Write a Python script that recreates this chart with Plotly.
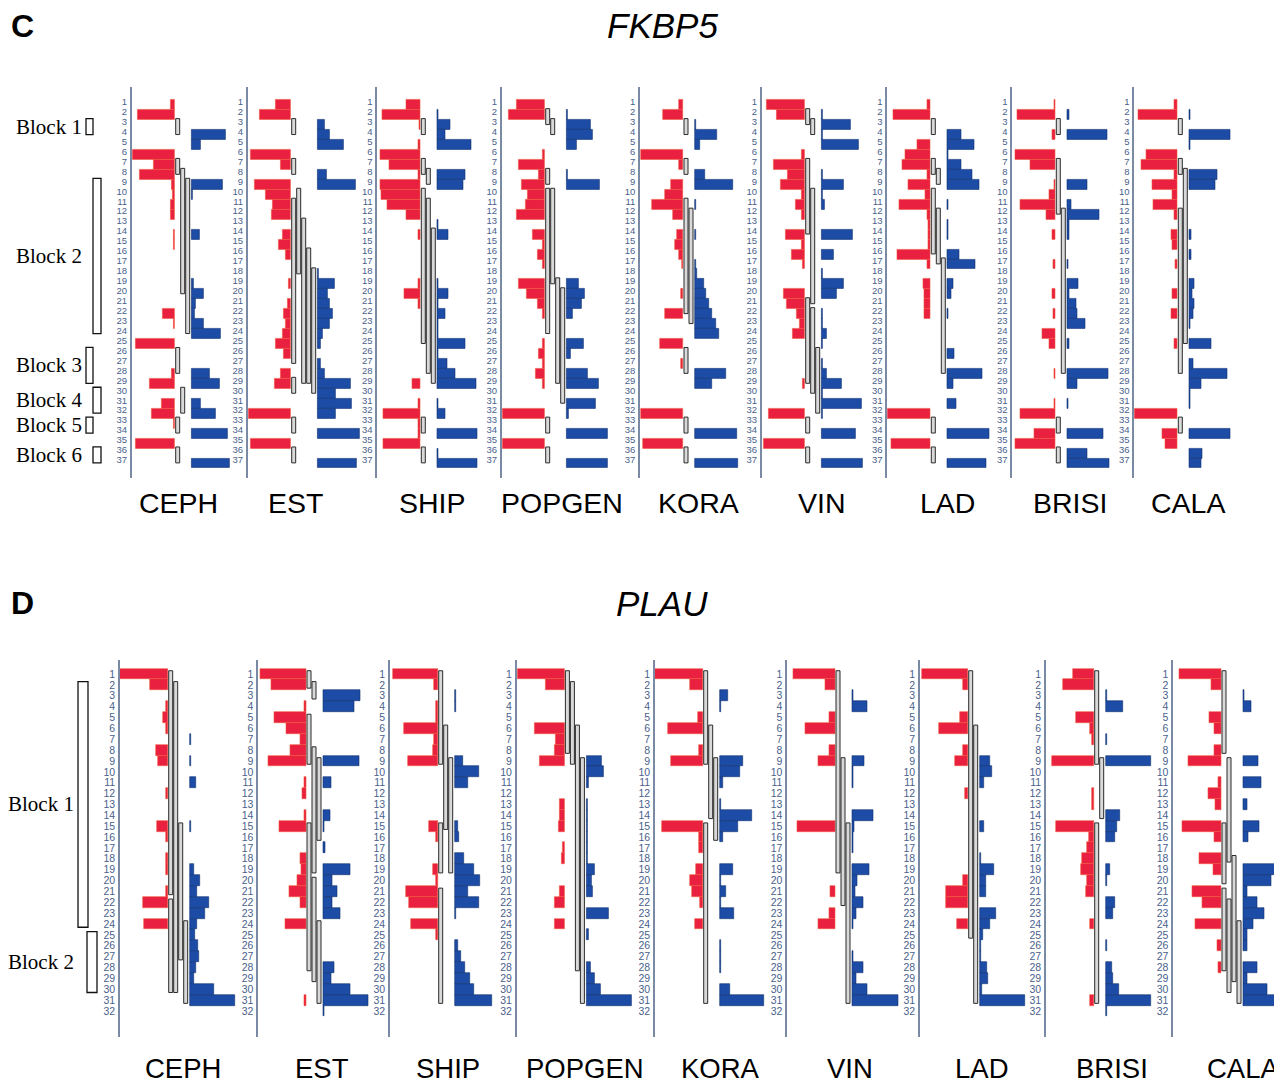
import plotly.graph_objects as go

# ---------------------------------------------------------------- data
POPULATIONS = ["CEPH", "EST", "SHIP", "POPGEN", "KORA", "VIN", "LAD", "BRISI", "CALA"]
FKBP5_SNPS = list(range(1, 38))
PLAU_SNPS = list(range(1, 33))

# FKBP5 (panel C): red (left) and blue (right) bar values per SNP, 0..1
C_CEPH_RED = [.10,.86,0,0,0,.98,.50,.82,.06,.05, .09,.10,0,.03,.03,0,0,0,0,0, 0,.29,.03,0,.90,0,0,.06,.57,0, .30,.53,.03,0,.90,0,0]
C_CEPH_BLUE = [0,0,0,.80,.21,0,0,0,.73,.03, 0,0,0,.19,0,0,0,0,.05,.29, .10,.06,.29,.68,0,0,0,.41,.66,0, .21,.56,0,.84,0,0,.89]
C_EST_RED = [.34,.73,0,0,0,.92,.24,0,.84,.57, .42,.45,0,.18,.28,.12,0,0,.04,0, .08,.16,.12,.18,.34,.16,0,.24,.37,0, 0,.98,0,0,.92,0,0]
C_EST_BLUE = [0,0,.17,.29,.61,0,0,.21,.88,0, 0,0,0,0,0,0,0,.02,.39,.24, .29,.35,.29,.11,.08,0,.08,.17,.76,.41, .80,.41,0,.98,0,0,.90]
C_SHIP_RED = [.33,.88,.03,0,.05,.94,.72,.04,.92,.90, .77,.33,0,.04,0,0,0,0,.05,.38, .04,0,0,0,0,0,0,0,.19,0, .05,.86,.05,.05,.86,0,0]
C_SHIP_BLUE = [0,.03,.30,.19,.79,0,0,.64,.60,0, 0,0,.03,.26,0,0,0,0,.03,.26, .03,.19,.03,.03,.64,.03,.23,.41,.90,0, .03,.19,0,.94,0,.03,.94]
C_POPGEN_RED = [.65,.84,0,0,0,.05,.61,.13,.53,.40, .45,.65,0,.29,.05,.17,.05,0,.61,.41, .17,.05,0,0,.05,.13,.05,.20,.05,0, 0,.98,0,0,.98,0,0]
C_POPGEN_BLUE = [0,.03,.56,.61,.24,0,0,.03,.76,0, 0,0,0,0,0,0,0,0,.28,.43, .36,.13,0,0,.40,.09,0,.48,.74,0, .68,.05,0,.95,0,0,.95]
C_KORA_RED = [.10,.47,0,0,0,.98,.10,0,.29,.41, .73,.23,0,.15,.19,.10,.03,0,0,.05, 0,.43,0,0,.53,0,.05,0,0,0, 0,.98,0,0,.94,0,0]
C_KORA_BLUE = [0,0,.03,.50,.12,0,0,.24,.88,0, .03,0,0,.03,0,0,.03,.05,.20,.26, .33,.39,.49,.55,0,0,0,.73,.39,0, 0,0,0,.98,0,0,.99]
C_VIN_RED = [.88,.65,0,0,0,.08,.71,.40,.55,.08, .22,.08,0,.45,.08,.31,.04,0,0,.48, .42,.19,.12,.27,0,0,0,0,.04,0, 0,.83,0,0,.96,0,0]
C_VIN_BLUE = [0,.03,.67,.03,.86,0,0,.03,.50,.03, .08,0,0,.72,0,.29,0,.03,.50,.35, 0,.03,.03,.12,.03,0,.03,.12,.46,.03, .94,.03,0,.78,0,0,.95]
C_LAD_RED = [.08,.86,0,0,.31,.59,.66,.08,.52,.12, .73,.08,.04,.04,.04,.76,.08,0,.16,.13, .13,.13,0,0,0,0,0,0,0,0, 0,.99,0,0,.91,0,0]
C_LAD_BLUE = [0,0,0,.33,.63,.03,.33,.59,.74,0, .03,0,.03,.03,0,.27,.66,0,.14,.09, 0,.03,0,0,0,.16,0,.82,.14,0, .20,0,0,.98,0,0,.90]
C_BRISI_RED = [.03,.89,0,.08,0,.94,.58,0,.03,.15, .82,.21,0,.08,0,0,.05,0,0,.08, 0,.05,0,.31,.14,0,0,.03,0,0, .03,.81,0,.48,.94,0,0]
C_BRISI_BLUE = [0,.04,0,.92,0,0,0,0,.47,0, .09,.74,.05,.05,0,0,.03,0,.26,.05, .21,.23,.41,0,.05,0,0,.95,.24,0, .03,0,0,.84,0,.46,.97]
C_CALA_RED = [.08,.91,0,0,0,.72,.83,.08,.58,.11, .55,.08,0,.15,.11,0,.05,0,0,.11, 0,.13,0,0,.08,0,0,0,0,0, 0,1.0,0,.36,.28,0,0]
C_CALA_BLUE = [0,.03,0,.96,.03,0,0,.64,.60,0, 0,0,0,.05,0,.05,0,0,.11,.07, .11,.09,.03,0,.51,0,.09,.89,.27,.03, .03,0,0,.96,0,.30,.27]

# FKBP5 haplotype blocks per population: (first SNP, last SNP, lane)
C_CEPH_BLOCKS = [(3,4,0),(7,8,0),(8,20,1),(9,24,2),(26,28,0),(30,32,1),(33,34,0),(36,37,0)]
C_EST_BLOCKS = [(3,4,0),(7,8,0),(10,18,1),(11,27,0),(13,29,2),(16,29,3),(18,30,4),(29,30,0),(33,34,0),(36,37,0)]
C_SHIP_BLOCKS = [(3,4,0),(7,8,0),(8,9,1),(10,25,0),(11,28,1),(14,29,2),(33,34,0),(36,37,0)]
C_POPGEN_BLOCKS = [(2,3,0),(3,4,1),(8,9,0),(10,24,0),(10,19,1),(19,29,2),(20,31,3),(33,34,0),(36,37,0)]
C_KORA_BLOCKS = [(3,4,0),(7,8,0),(11,22,0),(12,23,1),(26,28,0),(33,34,0),(36,37,0)]
C_VIN_BLOCKS = [(2,3,0),(3,4,1),(7,14,0),(10,21,1),(21,29,0),(22,30,1),(26,32,2),(33,34,0),(36,37,0)]
C_LAD_BLOCKS = [(3,4,0),(7,8,0),(8,9,1),(10,16,0),(12,17,1),(17,28,2),(33,34,0),(36,37,0)]
C_BRISI_BLOCKS = [(3,4,0),(7,12,0),(12,28,1),(33,34,0),(36,37,0)]
C_CALA_BLOCKS = [(3,4,0),(7,8,0),(8,25,1),(12,28,0),(33,34,0)]

# PLAU (panel D)
D_CEPH_RED = [.99,.38,0,.04,.09,.04,0,.24,.20,0, 0,.04,0,0,.22,.04,0,.04,.04,0, .03,.51,0,.49,0,0,0,0,0,0, 0,0]
D_CEPH_BLUE = [0,0,0,0,0,0,.03,0,.03,0, .14,0,0,0,.03,0,0,0,.08,.21, .15,.40,.33,.15,.12,.17,.19,.14,.08,.50, .96,0]
D_EST_RED = [.96,.73,0,.03,.66,.41,.11,.32,.80,0, .04,.07,0,.04,.57,0,0,.13,.09,.18, .36,.13,0,.44,0,0,0,0,0,0, .04,0]
D_EST_BLUE = [0,0,.79,.66,0,0,0,0,.76,0, .17,0,0,.16,.03,0,.05,0,.57,.19, .29,.19,.37,0,0,0,0,.24,.17,.57, .94,.03]
D_SHIP_RED = [.93,.08,0,.03,.03,.70,.08,.10,.62,0, 0,0,0,0,.19,.03,0,0,.10,.03, .66,.60,0,.55,.03,0,0,0,0,0, 0,0]
D_SHIP_BLUE = [0,0,.03,.03,0,0,0,0,.17,.50, .28,0,0,0,.06,.10,0,.19,.40,.54, .28,.50,.03,0,0,.07,.14,.22,.33,.41, .79,0]
D_POPGEN_RED = [.98,.39,0,0,0,.63,.18,.20,.51,0, 0,0,.09,.09,.11,0,.03,.06,0,0, .09,.20,0,.20,0,0,0,0,0,0, 0,0]
D_POPGEN_BLUE = [0,0,0,0,0,0,0,0,.33,.36, .05,0,.02,.02,.02,.02,.02,.02,.17,.12, .14,0,.47,0,.05,0,0,.08,.17,.29, .96,0]
D_KORA_RED = [.99,.26,0,0,.10,.72,0,.08,.67,0, 0,0,0,0,.86,.08,.08,0,.14,.26, .23,.05,0,.17,0,0,0,0,0,0, 0,0]
D_KORA_BLUE = [0,0,.18,.03,0,0,0,0,.49,.42, .06,0,.03,.67,.39,.07,0,0,.28,.03, .13,.03,.30,0,0,.03,.03,.03,0,.21, .92,0]
D_VIN_RED = [.87,.20,0,0,.13,.62,0,.11,.34,0, 0,0,0,0,.80,0,0,0,0,0, .10,0,.11,.34,0,0,0,0,0,0, 0,0]
D_VIN_BLUE = [0,0,.03,.33,0,0,0,0,.26,.03, .03,0,0,.44,.05,.03,.03,0,.37,.12, .07,.23,.10,.03,0,0,.03,.23,.10,.33, .97,0]
D_LAD_RED = [.96,.10,0,0,.16,.60,0,.10,.27,0, 0,.05,0,0,0,0,0,0,0,.10, .45,.45,0,.22,0,0,0,0,0,0, 0,0]
D_LAD_BLUE = [0,0,0,0,0,0,0,0,.22,.26, .10,0,0,0,.10,0,0,.03,.31,.14, .14,0,.35,.21,.07,.03,.03,.15,.17,.05, .94,0]
D_BRISI_RED = [.43,.65,0,0,.38,.08,.03,0,.88,0, 0,.03,.03,0,.79,.10,.15,.24,.26,.15, .17,0,0,.08,0,0,0,0,0,0, .08,0]
D_BRISI_BLUE = [0,0,.03,.36,0,0,.03,0,.94,0, 0,0,0,.29,.24,.20,0,0,.08,.03, 0,.20,.15,0,0,.03,0,.13,.15,.27, .94,.03]
D_CALA_RED = [.88,.21,0,0,.24,.14,0,.14,.69,0, .05,.26,.12,0,.81,.14,0,.45,.17,0, .60,.39,0,.53,0,.07,0,.05,0,0, 0,0]
D_CALA_BLUE = [0,0,.03,.17,0,0,0,0,.32,0, .39,0,.09,0,.34,.12,0,0,.71,.59, .10,.31,.45,.21,.09,.09,0,.31,.10,.50, .74,0]

D_CEPH_BLOCKS = [(1,21,0),(2,30,1),(22,30,0),(15,27,2),(24,31,3)]
D_EST_BLOCKS = [(1,2,0),(2,3,1),(5,9,0),(8,19,1),(9,16,2),(15,28,0),(20,29,1),(24,31,2)]
D_SHIP_BLOCKS = [(1,9,0),(6,15,1),(9,19,2),(15,19,0),(21,31,0)]
D_POPGEN_BLOCKS = [(1,8,0),(2,9,1),(6,28,2),(9,31,3)]
D_KORA_BLOCKS = [(1,9,0),(6,14,1),(9,16,2),(15,31,0)]
D_VIN_BLOCKS = [(1,19,0),(9,22,1),(15,31,2)]
D_LAD_BLOCKS = [(1,25,0),(6,31,1)]
D_BRISI_BLOCKS = [(1,9,0),(9,14,1),(15,31,0)]
D_CALA_BLOCKS = [(1,8,0),(9,18,1),(15,20,0),(18,29,2),(21,28,0),(22,30,1),(24,31,3)]

# haplotype block key at the left of each panel: (first SNP, last SNP, lane)
FKBP5_KEY_BLOCKS = [(3,4,0),(9,24,1),(26,29,0),(30,32,1),(33,34,0),(36,37,1)]
PLAU_KEY_BLOCKS = [(2,24,0),(25,30,1)]

FKBP5_RED = [C_CEPH_RED, C_EST_RED, C_SHIP_RED, C_POPGEN_RED, C_KORA_RED, C_VIN_RED, C_LAD_RED, C_BRISI_RED, C_CALA_RED]
FKBP5_BLUE = [C_CEPH_BLUE, C_EST_BLUE, C_SHIP_BLUE, C_POPGEN_BLUE, C_KORA_BLUE, C_VIN_BLUE, C_LAD_BLUE, C_BRISI_BLUE, C_CALA_BLUE]
FKBP5_BLOCKS = [C_CEPH_BLOCKS, C_EST_BLOCKS, C_SHIP_BLOCKS, C_POPGEN_BLOCKS, C_KORA_BLOCKS, C_VIN_BLOCKS, C_LAD_BLOCKS, C_BRISI_BLOCKS, C_CALA_BLOCKS]
PLAU_RED = [D_CEPH_RED, D_EST_RED, D_SHIP_RED, D_POPGEN_RED, D_KORA_RED, D_VIN_RED, D_LAD_RED, D_BRISI_RED, D_CALA_RED]
PLAU_BLUE = [D_CEPH_BLUE, D_EST_BLUE, D_SHIP_BLUE, D_POPGEN_BLUE, D_KORA_BLUE, D_VIN_BLUE, D_LAD_BLUE, D_BRISI_BLUE, D_CALA_BLUE]
PLAU_BLOCKS = [D_CEPH_BLOCKS, D_EST_BLOCKS, D_SHIP_BLOCKS, D_POPGEN_BLOCKS, D_KORA_BLOCKS, D_VIN_BLOCKS, D_LAD_BLOCKS, D_BRISI_BLOCKS, D_CALA_BLOCKS]

# ---------------------------------------------------------------- layout / style
FIG_W, FIG_H = 1274, 1072   # page body keeps an 8 px margin
OFF = 8
RED, RED_EDGE = "#e9203f", "#f0553a"
BLUE, BLUE_EDGE = "#1c4ca5", "#10306e"
AXIS_COL, TICK_COL = "#7b8aa4", "#4a5f8c"
BOX_EDGE, BOX_FILL = "#2b2b2b", "#d9d9d9"


def px(x):
    return (x - OFF) / FIG_W


def py(y):
    return 1 - (y - OFF) / FIG_H


PANELS = [
    dict(letter="C", gene="FKBP5", snps=FKBP5_SNPS, red=FKBP5_RED, blue=FKBP5_BLUE,
         blocks=FKBP5_BLOCKS, key=FKBP5_KEY_BLOCKS,
         axis_x=[131.7, 247.7, 377.3, 501.7, 640.0, 761.7, 887.3, 1012.3, 1134.3],
         label_x=[178, 295, 432, 562, 698, 822, 948, 1070, 1188], label_y=503, title_y=26,
         label_size=28.5,
         y_top=86.7, y_bot=478.0, row1=101.7, step=9.95, bar_off=0.33, scale=43.0,
         tick_size=9.5, key_lanes=[(86, 93), (93, 101)], key_text_x=84),
    dict(letter="D", gene="PLAU", snps=PLAU_SNPS, red=PLAU_RED, blue=PLAU_BLUE,
         blocks=PLAU_BLOCKS, key=PLAU_KEY_BLOCKS,
         axis_x=[120.0, 258.3, 390.0, 516.7, 655.0, 787.3, 920.0, 1046.0, 1173.3],
         label_x=[183, 322, 448, 585, 721, 850, 982, 1112, 1243], label_y=1068, title_y=603,
         label_size=27.5,
         y_top=660.0, y_bot=1036.7, row1=674.0, step=10.87, bar_off=0.0, scale=47.7,
         tick_size=10.5, key_lanes=[(78, 88), (87, 97)], key_text_x=76),
]

LANE_W, BOX_W, PAD = 5.0, 4.0, 0.3

fig = go.Figure()
axes = {}
shapes = []
annotations = []
n = 0
for P in PANELS:
    key_yref = None
    S = P["scale"]
    for i, pop in enumerate(POPULATIONS):
        n += 1
        xa, ya = ("x", "y") if n == 1 else (f"x{n}", f"y{n}")
        xk, yk = ("xaxis", "yaxis") if n == 1 else (f"xaxis{n}", f"yaxis{n}")
        if key_yref is None:
            key_yref = ya
        ax = P["axis_x"][i]
        right = min(ax + 128, FIG_W + OFF)
        axes[xk] = dict(domain=[px(ax), px(right)], range=[0, right - ax],
                        visible=False, anchor=ya, fixedrange=True)
        y_lo = 1 + (P["y_bot"] - P["row1"]) / P["step"]
        y_hi = 1 + (P["y_top"] - P["row1"]) / P["step"]
        axes[yk] = dict(domain=[py(P["y_bot"]), py(P["y_top"])],
                        range=[y_lo, y_hi], anchor=xa, showline=True, linecolor=AXIS_COL,
                        linewidth=1.5, showgrid=False, zeroline=False, ticks="",
                        tickmode="array", tickvals=P["snps"],
                        ticktext=[str(s) for s in P["snps"]], ticklabelstandoff=1,
                        tickfont=dict(size=P["tick_size"], color=TICK_COL,
                                      family="Liberation Sans"), fixedrange=True)
        blocks = P["blocks"][i]
        n_lanes = max(b[2] for b in blocks) + 1
        blue_base = S + LANE_W * n_lanes + 2

        reds = [(k, v) for k, v in zip(P["snps"], P["red"][i]) if v > 0]
        fig.add_trace(go.Bar(
            orientation="h", y=[k + P["bar_off"] for k, _ in reds], x=[-v * S for _, v in reds],
            base=[S] * len(reds), width=1.0, xaxis=xa, yaxis=ya, hoverinfo="skip",
            marker=dict(color=RED, line=dict(color=RED_EDGE, width=0.6))))
        blues = [(k, v) for k, v in zip(P["snps"], P["blue"][i]) if v > 0]
        fig.add_trace(go.Bar(
            orientation="h", y=[k + P["bar_off"] for k, _ in blues], x=[v * S for _, v in blues],
            base=[blue_base] * len(blues), width=1.0, xaxis=xa, yaxis=ya, hoverinfo="skip",
            marker=dict(color=BLUE, line=dict(color=BLUE_EDGE, width=0.6))))
        for a, b, lane in blocks:
            x0 = S + 1 + LANE_W * lane
            shapes.append(dict(type="rect", xref=xa, yref=ya, x0=x0, x1=x0 + BOX_W,
                               y0=a - PAD, y1=b + PAD, line=dict(color=BOX_EDGE, width=1),
                               fillcolor=BOX_FILL, layer="above"))
        annotations.append(dict(text=pop, xref="paper", yref="paper",
                                x=px(P["label_x"][i]), y=py(P["label_y"]),
                                showarrow=False, xanchor="center", yanchor="middle",
                                font=dict(size=P["label_size"], color="black",
                                          family="Liberation Sans")))
    # block key
    for j, (a, b, lane) in enumerate(P["key"]):
        x0, x1 = P["key_lanes"][lane]
        shapes.append(dict(type="rect", xref="paper", yref=key_yref, x0=px(x0), x1=px(x1),
                           y0=a - PAD, y1=b + PAD, line=dict(color="#111111", width=1.3),
                           fillcolor="rgba(0,0,0,0)"))
        annotations.append(dict(text=f"Block {j + 1}", xref="paper", yref=key_yref,
                                x=px(P["key_text_x"]), y=(a + b) / 2, showarrow=False,
                                xanchor="right", yanchor="middle",
                                font=dict(size=21, color="black", family="Liberation Serif")))
    annotations.append(dict(text=f"<b>{P['letter']}</b>", xref="paper", yref="paper",
                            x=px(9), y=py(P["title_y"]), showarrow=False,
                            xanchor="left", yanchor="middle",
                            font=dict(size=32, color="black", family="Liberation Sans")))
    annotations.append(dict(text=f"<i>{P['gene']}</i>", xref="paper", yref="paper",
                            x=px(662), y=py(P["title_y"]), showarrow=False,
                            xanchor="center", yanchor="middle",
                            font=dict(size=35, color="black", family="Liberation Sans")))

fig.update_layout(width=FIG_W, height=FIG_H, margin=dict(l=0, r=0, t=0, b=0),
                  paper_bgcolor="white", plot_bgcolor="rgba(0,0,0,0)",
                  barmode="overlay", bargap=0, showlegend=False,
                  shapes=shapes, annotations=annotations, **axes)
fig.write_html("out.html")
